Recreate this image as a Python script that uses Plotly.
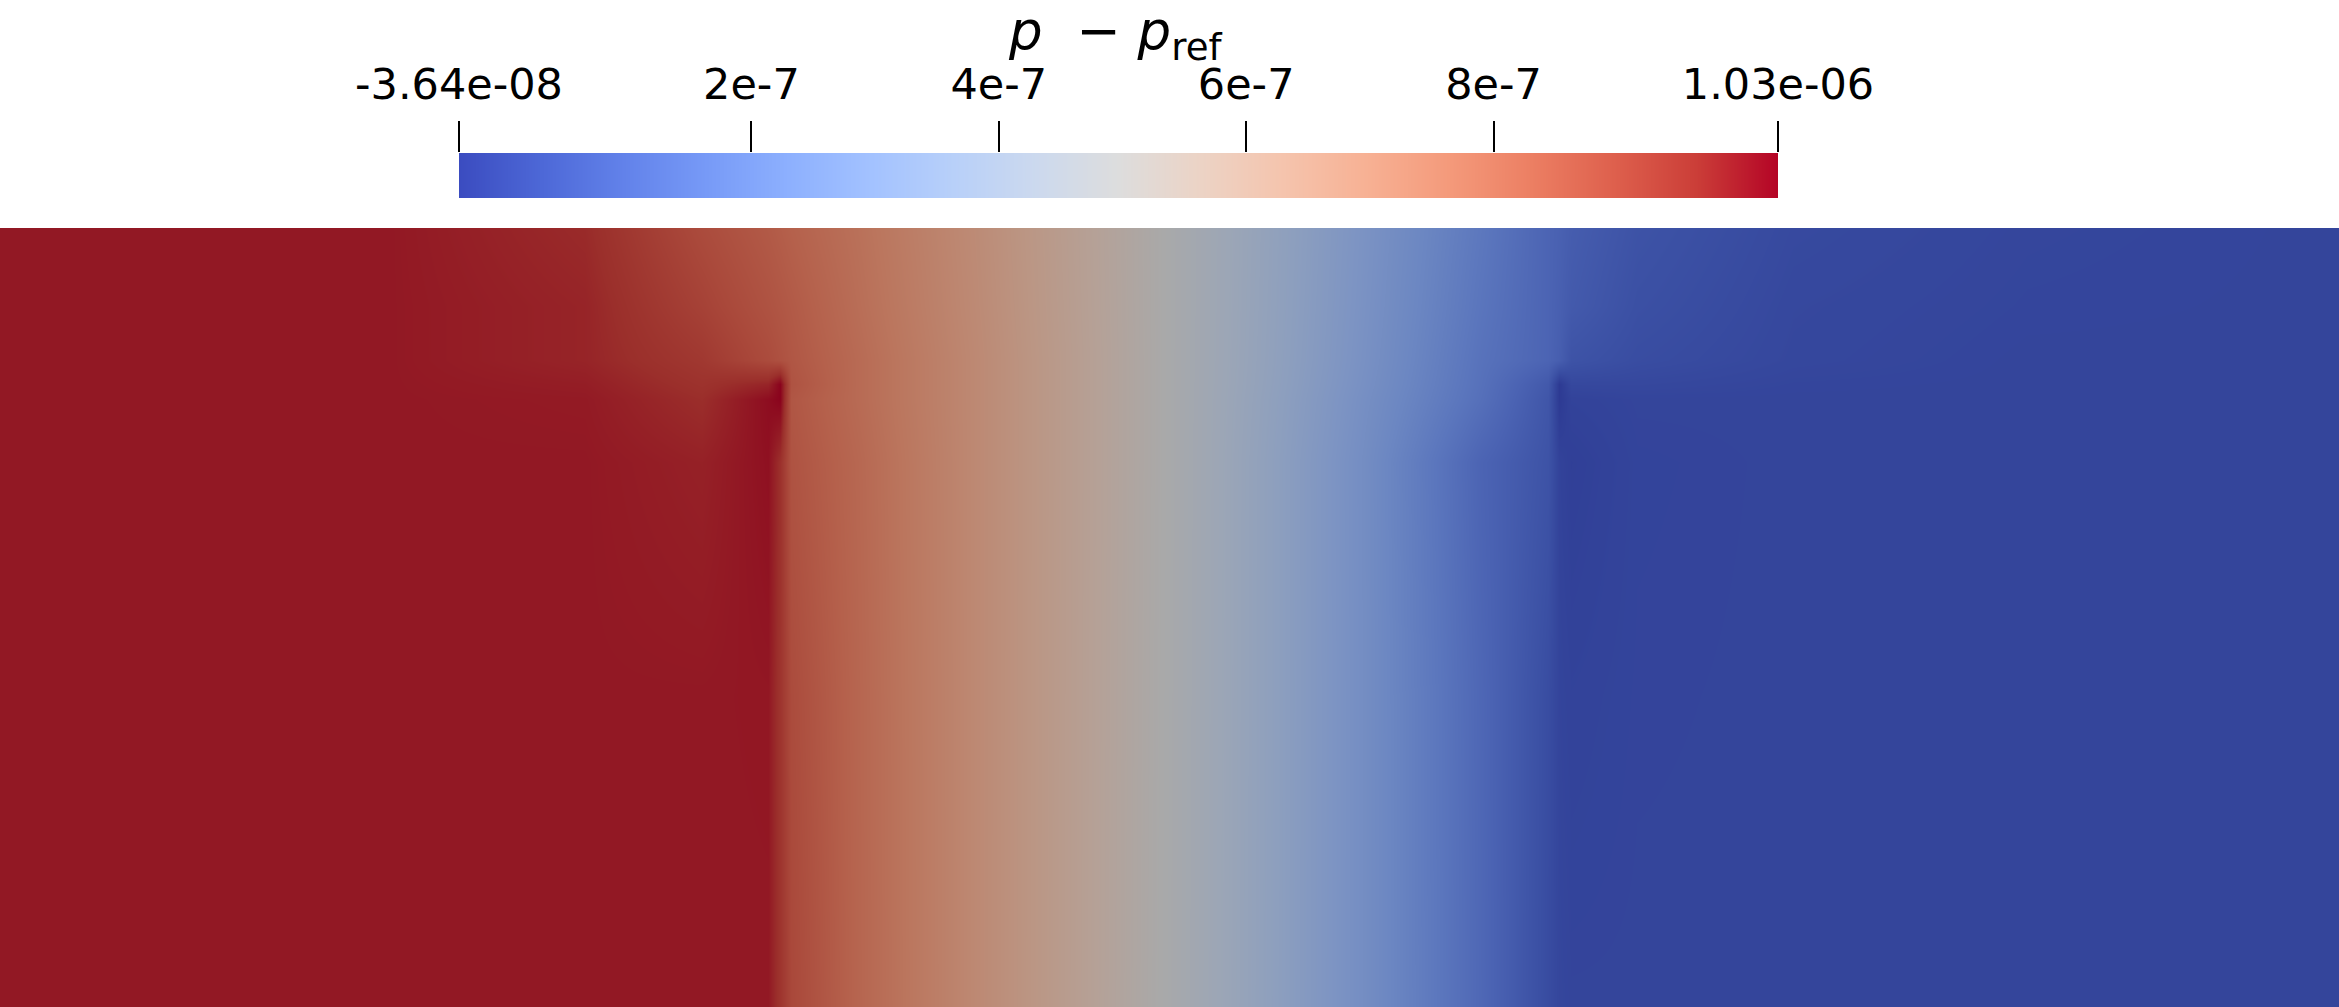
import plotly.graph_objects as go

# p - p_ref over the channel (two thin baffles at x=1 and x=2, height 0.8)
# values, in units of 1e-7
x_pos = [0.0, 0.5, 0.75, 0.9, 0.985, 1.0, 1.015, 1.1, 1.25, 1.5, 1.75,
         1.9, 1.985, 2.0, 2.015, 2.1, 2.3, 2.6, 3.0]
y_pos = [0.0, 0.4, 0.7, 0.78, 0.8, 0.83, 0.9, 1.0]

row_y000 = [9.98, 9.98, 9.98, 9.98, 9.98, 9.5, 9.0, 8.17, 6.9, 4.86, 2.62,
            1.13, 0.17, 0.01, -0.04, -0.04, -0.04, -0.04, -0.04]
row_y040 = [9.98, 9.98, 9.98, 9.98, 10.0, 9.5, 8.9, 8.15, 6.9, 4.88, 2.62,
            1.1, 0.2, -0.05, -0.1, -0.05, -0.04, -0.04, -0.04]
row_y070 = [9.98, 9.98, 9.98, 9.85, 10.1, 9.6, 8.7, 8.1, 6.9, 4.9, 2.6,
            1.0, 0.4, -0.1, -0.2, -0.06, -0.04, -0.04, -0.04]
row_y078 = [9.98, 9.98, 9.95, 9.65, 10.15, 10.3, 8.6, 8.0, 6.9, 4.9, 2.7,
            1.4, 0.5, -0.36, -0.1, -0.04, -0.04, -0.04, -0.04]
row_y080 = [9.98, 9.98, 9.9, 9.55, 9.8, 10.3, 8.7, 8.0, 6.9, 4.9, 2.75,
            1.45, 0.6, -0.36, 0.05, 0.05, -0.02, -0.04, -0.04]
row_y083 = [9.98, 9.98, 9.8, 9.4, 8.9, 8.75, 8.6, 8.0, 6.9, 4.9, 2.8,
            1.5, 1.0, 0.8, 0.4, 0.2, 0.03, -0.04, -0.04]
row_y090 = [9.98, 9.98, 9.8, 9.15, 8.7, 8.6, 8.5, 7.9, 6.85, 4.9, 2.85,
            1.6, 1.0, 0.85, 0.65, 0.3, 0.05, -0.02, -0.04]
row_y100 = [9.98, 9.98, 9.7, 8.9, 8.5, 8.4, 8.3, 7.8, 6.8, 4.9, 2.9,
            1.7, 1.0, 0.9, 0.75, 0.4, 0.1, 0.0, -0.04]

z_rows = [row_y000, row_y040, row_y070, row_y078, row_y080,
          row_y083, row_y090, row_y100]

p_min = -3.64e-08
p_max = 1.03e-06
tick_vals = [-3.64e-08, 2e-7, 4e-7, 6e-7, 8e-7, 1.03e-06]
tick_text = ["-3.64e-08", "2e-7", "4e-7", "6e-7", "8e-7", "1.03e-06"]

# Cool to Warm (Moreland)
cool_warm = [
    (0.0, (59, 76, 192)), (0.0625, (77, 104, 215)), (0.125, (98, 130, 234)),
    (0.1875, (119, 154, 247)), (0.25, (141, 176, 254)), (0.3125, (163, 194, 255)),
    (0.375, (184, 208, 249)), (0.4375, (204, 217, 238)), (0.5, (221, 221, 221)),
    (0.5625, (236, 211, 197)), (0.625, (245, 196, 173)), (0.6875, (247, 177, 148)),
    (0.75, (244, 154, 123)), (0.8125, (236, 127, 99)), (0.875, (222, 96, 77)),
    (0.9375, (203, 62, 56)), (1.0, (180, 4, 38)),
]
shade = 0.765  # the surface is lit, so it shows darker than the bar


def scale(cmap, k=1.0):
    return [[p, "rgb(%d,%d,%d)" % tuple(round(c * k) for c in rgb)] for p, rgb in cmap]


z = [[v * 1e-7 for v in row] for row in z_rows]

fig = go.Figure()

fig.add_trace(go.Heatmap(
    x=x_pos, y=y_pos, z=z,
    zmin=p_min, zmax=p_max,
    colorscale=scale(cool_warm, shade),
    zsmooth="best", showscale=False, hoverinfo="skip",
))

# colour bar as its own little subplot so the ticks can sit on top
fig.add_trace(go.Heatmap(
    x=[p_min, p_max], y=[0, 1], z=[[p_min, p_max], [p_min, p_max]],
    zmin=p_min, zmax=p_max,
    colorscale=scale(cool_warm),
    zsmooth="best", showscale=False, hoverinfo="skip",
    xaxis="x2", yaxis="y2",
))

W, H = 2339, 1007
font = "'DejaVu Sans', sans-serif"

fig.update_layout(
    width=W, height=H, autosize=False,
    margin=dict(l=0, r=0, t=0, b=0, pad=0),
    paper_bgcolor="white", plot_bgcolor="white",
    xaxis=dict(domain=[0, 1], range=[0, 3], visible=False, automargin=False),
    yaxis=dict(domain=[0, 779 / H], range=[0, 1], visible=False, automargin=False),
    xaxis2=dict(
        domain=[459 / W, 1778 / W], range=[p_min, p_max], anchor="y2",
        side="top", showgrid=False, zeroline=False, showline=False,
        automargin=False,
        ticks="outside", ticklen=31, tickwidth=1.5, tickcolor="black",
        tickmode="array", tickvals=tick_vals, ticktext=tick_text,
        tickfont=dict(family=font, size=43, color="black"),
        ticklabelstandoff=5,
    ),
    yaxis2=dict(domain=[(H - 198) / H, (H - 153) / H], range=[0, 1],
                anchor="x2", visible=False, automargin=False),
    showlegend=False,
)

fig.add_annotation(
    text="<i>p</i>  − <i>p</i><sub>ref</sub>",
    x=1115 / W, y=1.0, yshift=2, xref="paper", yref="paper",
    xanchor="center", yanchor="top", showarrow=False,
    font=dict(family=font, size=53, color="black"),
)

fig.write_html("out.html", config={"displayModeBar": False},
               post_script="document.body.style.margin='0';")
